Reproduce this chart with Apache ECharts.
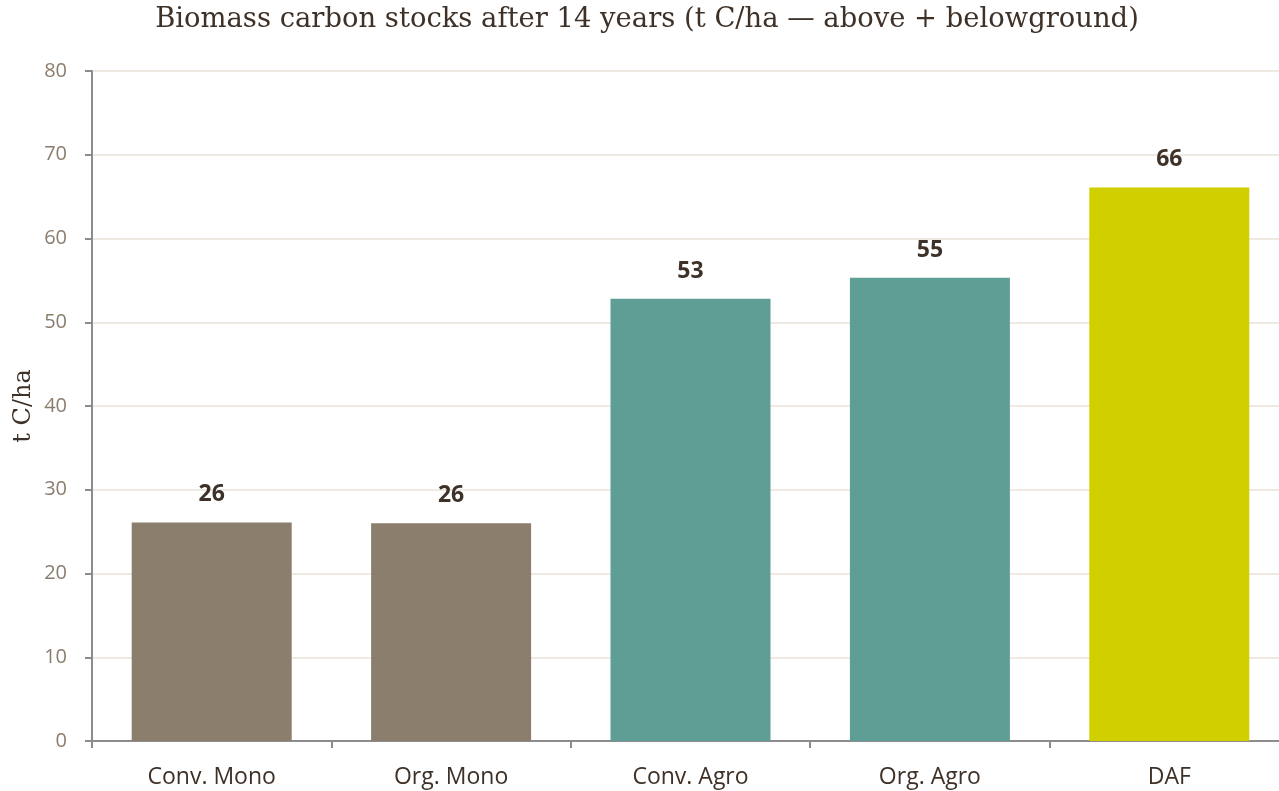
<!DOCTYPE html>
<html><head><meta charset="utf-8">
<script src="https://cdn.jsdelivr.net/npm/echarts@6/dist/echarts.min.js"></script>
<style>html,body{margin:0;padding:0;background:#fff}#c{width:1279px;height:791px}</style>
</head><body><div id="c"></div>
<script>
const categories = ["Conv. Mono", "Org. Mono", "Conv. Agro", "Org. Agro", "DAF"];
const values = [26.1, 26.0, 52.8, 55.3, 66.1];
const labels = ["26", "26", "53", "55", "66"];
const colors = ["#8b7e6d", "#8b7e6d", "#5e9e94", "#5e9e94", "#d0cf00"];
const yTicks = [0, 10, 20, 30, 40, 50, 60, 70, 80];

const chart = echarts.init(document.getElementById('c'), null, {renderer: 'canvas'});
chart.setOption({
  animation: false,
  backgroundColor: '#ffffff',
  title: {
    text: 'Biomass carbon stocks after 14 years (t C/ha \u2014 above + belowground)',
    left: 642, top: 1, textAlign: 'center',
    textStyle: {fontFamily: 'DejaVu Serif', fontWeight: 'normal', fontSize: 27.4, color: '#3d3128'}
  },
  grid: {left: 92, right: -10, top: 71, bottom: 50, containLabel: false, outerBoundsMode: 'none'},
  xAxis: {
    type: 'category', data: categories,
    axisLine: {lineStyle: {color: '#8c8c8c', width: 2}},
    axisTick: {show: true, length: 7, alignWithLabel: false, lineStyle: {color: '#8c8c8c', width: 2}},
    axisLabel: {color: '#3d3128', fontFamily: 'Open Sans', fontSize: 23, margin: 25}
  },
  yAxis: {
    type: 'value', min: 0, max: 80, interval: 10,
    name: 't C/ha', nameLocation: 'middle', nameGap: 56, nameRotate: 90, nameMoveOverlap: false,
    nameTextStyle: {fontFamily: 'DejaVu Serif', fontSize: 24, color: '#3d3128'},
    axisLine: {show: true, lineStyle: {color: '#8c8c8c', width: 2}},
    axisTick: {show: true, length: 7, lineStyle: {color: '#8c8c8c', width: 2}},
    axisLabel: {color: '#8a7d6e', fontFamily: 'Open Sans', fontSize: 20, margin: 25,
      formatter: v => yTicks.includes(v) ? String(v) : ''},
    splitLine: {show: true, lineStyle: {color: '#e8e3da', width: 1.5}}
  },
  series: [{
    type: 'bar', barWidth: 160,
    data: values.map((v, i) => ({value: v, itemStyle: {color: colors[i]}})),
    label: {show: true, position: 'top', distance: 16,
      formatter: p => labels[p.dataIndex],
      fontFamily: 'Open Sans', fontWeight: 'bold', fontSize: 23, color: '#3d3128'}
  }]
});
</script></body></html>
